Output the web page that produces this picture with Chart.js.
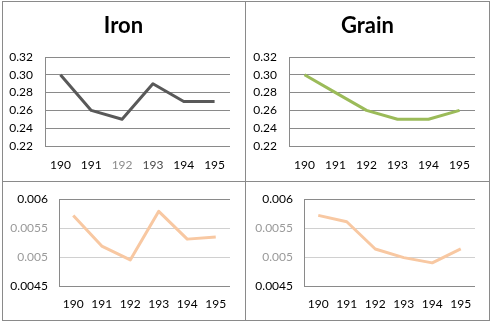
<!DOCTYPE html>
<html>
<head>
<meta charset="utf-8">
<script src="https://cdn.jsdelivr.net/npm/chart.js@4"></script>
<style>
  html, body { margin: 0; padding: 0; background: #fff; }
  #wrap { position: relative; width: 491px; height: 322px; background: #fff; overflow: hidden; }
  .cv { position: absolute; }
  .line { position: absolute; background: #8a8a8a; }
  .title { position: absolute; font-family: Lato, 'Open Sans', sans-serif; font-weight: bold; font-size: 22px; color: #000; text-align: center; width: 243px; top: 11px; }
</style>
</head>
<body>
<div id="wrap">
  <canvas id="c1" class="cv" width="245" height="181" style="left:0;top:0"></canvas>
  <canvas id="c2" class="cv" width="246" height="181" style="left:245px;top:0"></canvas>
  <canvas id="c3" class="cv" width="245" height="141" style="left:0;top:181px"></canvas>
  <canvas id="c4" class="cv" width="246" height="141" style="left:245px;top:181px"></canvas>
  <div class="title" style="left:2px">Iron</div>
  <div class="title" style="left:246px">Grain</div>
  <div class="line" style="left:2px;top:1px;width:488px;height:1px"></div>
  <div class="line" style="left:2px;top:320px;width:488px;height:1px"></div>
  <div class="line" style="left:2px;top:1px;width:1px;height:320px"></div>
  <div class="line" style="left:489px;top:1px;width:1px;height:320px"></div>
  <div class="line" style="left:245px;top:1px;width:1px;height:320px"></div>
  <div class="line" style="left:2px;top:181px;width:488px;height:1px"></div>
</div>
<script>
const categories = ['190', '191', '192', '193', '194', '195'];
const ironShare = [0.30, 0.26, 0.25, 0.29, 0.27, 0.27];
const grainShare = [0.30, 0.28, 0.26, 0.25, 0.25, 0.26];
const ironSmall = [0.00572, 0.00519, 0.00495, 0.00579, 0.00531, 0.005345];
const grainSmall = [0.00572, 0.00561, 0.00514, 0.00499, 0.0049, 0.00514];
const topTicks = [0.22, 0.24, 0.26, 0.28, 0.30, 0.32];
const bottomTicks = [0.0045, 0.005, 0.0055, 0.006];

const FONT = { family: "Lato, 'Open Sans', sans-serif", size: 12 };

function makeChart(id, data, color, opts) {
  const isTop = opts.top;
  new Chart(document.getElementById(id), {
    type: 'line',
    data: {
      labels: categories,
      datasets: [{
        data: data,
        borderColor: color,
        borderWidth: 3,
        tension: 0,
        pointRadius: 0,
        borderJoinStyle: 'round',
        borderCapStyle: 'butt',
        fill: false
      }]
    },
    options: {
      responsive: false,
      animation: false,
      devicePixelRatio: 1,
      layout: { padding: { left: 0, right: opts.right, top: opts.padTop, bottom: 0 } },
      plugins: { legend: { display: false }, tooltip: { enabled: false }, title: { display: false } },
      scales: {
        x: {
          type: 'category',
          offset: true,
          grid: { display: false, drawTicks: false },
          border: { display: false },
          ticks: {
            font: FONT,
            color: opts.xColors ? (c) => opts.xColors[c.index] : '#000',
            padding: opts.xPad,
            maxRotation: 0,
            autoSkip: false
          },
          afterFit: (s) => { s.height = opts.xHeight; }
        },
        y: {
          min: isTop ? topTicks[0] : bottomTicks[0],
          max: isTop ? topTicks[topTicks.length - 1] : bottomTicks[bottomTicks.length - 1],
          afterBuildTicks: (s) => { s.ticks = (isTop ? topTicks : bottomTicks).map(v => ({ value: v })); },
          grid: {
            drawTicks: false,
            lineWidth: 1,
            color: isTop ? '#8a8a8a' : (c) => (c.index === 0 || c.index === bottomTicks.length - 1) ? '#8a8a8a' : '#d0d0d0'
          },
          border: { display: true, color: '#8a8a8a', width: 1 },
          ticks: {
            font: FONT,
            padding: opts.yPad,
            color: isTop ? '#000' : (c) => (c.index === 0 || c.index === bottomTicks.length - 1) ? '#000' : '#9a9a9a',
            callback: (v) => isTop ? Number(v).toFixed(2) : String(Number(Number(v).toFixed(4)))
          },
          afterFit: (s) => { s.width = opts.yWidth; }
        }
      }
    }
  });
}

makeChart('c1', ironShare, '#595959', { top: true, right: 15, padTop: 57, xHeight: 35, yWidth: 45, yPad: 12, xPad: 12,
  xColors: ['#000', '#000', '#8c8c8c', '#4a4a4a', '#000', '#000'] });
makeChart('c2', grainShare, '#9BBB59', { top: true, right: 16, padTop: 57, xHeight: 35, yWidth: 44, yPad: 12, xPad: 12 });
makeChart('c3', ironSmall, '#F8C8A2', { top: false, right: 15, padTop: 16, xHeight: 36, yWidth: 59, yPad: 11, xPad: 11 });
makeChart('c4', grainSmall, '#F8C8A2', { top: false, right: 16, padTop: 16, xHeight: 36, yWidth: 59, yPad: 11, xPad: 11 });
</script>
</body>
</html>
